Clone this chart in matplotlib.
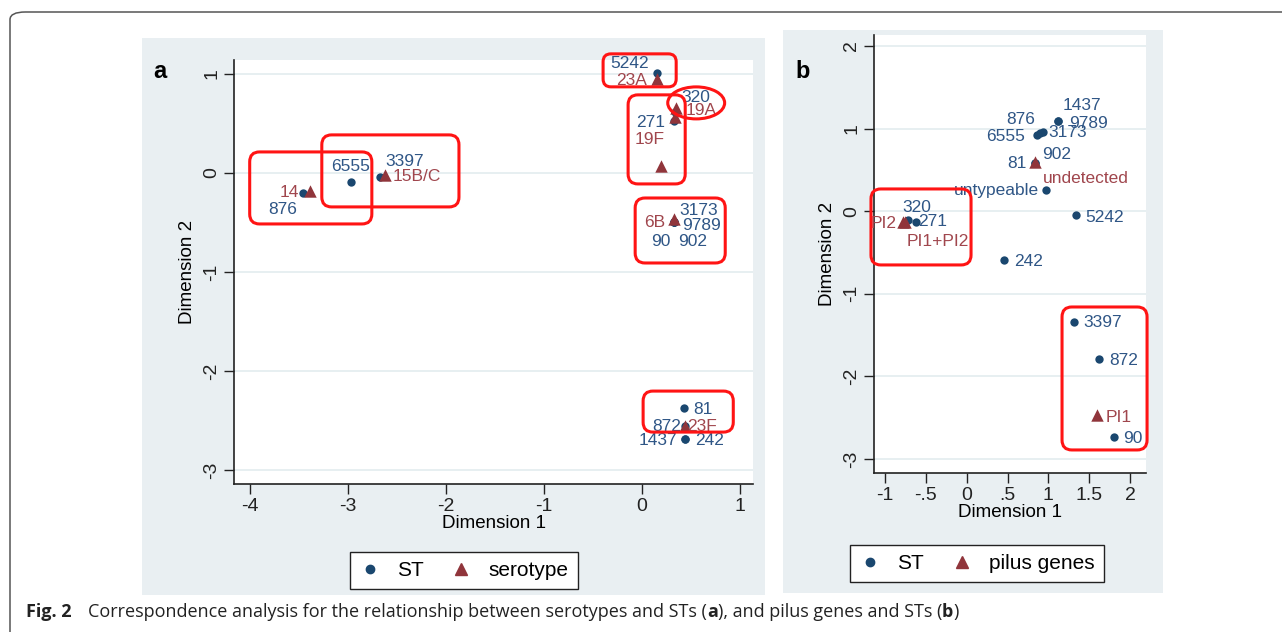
import matplotlib.pyplot as plt
from matplotlib.patches import FancyBboxPatch, Rectangle, Ellipse
from matplotlib.lines import Line2D

W, H = 1282, 632

# ---- panel a: STs and serotypes ----
st_a_names = ["876", "6555", "3397", "5242", "320", "271", "3173", "9789",
              "902", "90", "81", "872", "1437", "242"]
st_a_x = [-3.46, -2.97, -2.67, 0.15, 0.33, 0.32, 0.32, 0.32,
          0.32, 0.32, 0.43, 0.44, 0.44, 0.44]
st_a_y = [-0.20, -0.09, -0.04, 1.01, 0.62, 0.52, -0.50, -0.50,
          -0.50, -0.50, -2.37, -2.55, -2.69, -2.69]

sero_names = ["14", "15B/C", "23A", "19A", "", "19F", "6B", "23F"]
sero_x = [-3.39, -2.62, 0.15, 0.35, 0.33, 0.19, 0.32, 0.44]
sero_y = [-0.18, -0.02, 0.95, 0.66, 0.56, 0.07, -0.47, -2.55]

# ---- panel b: STs and pilus genes ----
st_b_names = ["320", "271", "242", "untypeable", "81", "902", "876", "6555",
              "3173", "1437", "9789", "5242", "3397", "872", "90"]
st_b_x = [-0.72, -0.62, 0.46, 0.97, 0.84, 0.84, 0.90, 0.86,
          0.93, 1.12, 1.12, 1.34, 1.31, 1.62, 1.80]
st_b_y = [-0.11, -0.13, -0.59, 0.26, 0.58, 0.58, 0.95, 0.92,
          0.96, 1.09, 1.09, -0.05, -1.34, -1.79, -2.74]

pilus_names = ["PI2", "PI1+PI2", "undetected", "PI1"]
pilus_x = [-0.78, -0.76, 0.84, 1.60]
pilus_y = [-0.13, -0.13, 0.60, -2.47]

# label offsets (pixels, centre of text relative to marker)
off_st_a = {"876": (-20, -17), "6555": (0, 15), "3397": (24, 15), "5242": (-27, 9),
            "320": (21, 14), "271": (-23, -1), "3173": (25, 12), "9789": (28, -3),
            "902": (19, -19), "90": (-13, -19), "81": (19, -2), "872": (-19, -1),
            "1437": (-27, -1), "242": (24, -1)}
off_sero = {"14": (-20, -2), "15B/C": (32, -2), "23A": (-25, -2), "19A": (25, -3),
            "19F": (-11, 26), "6B": (-19, -3), "23F": (17, -1)}
off_st_b = {"320": (9, 13), "271": (17, 0), "242": (24, -2), "untypeable": (-50, -1),
            "81": (-18, 0), "902": (21, 9), "876": (-20, 13), "6555": (-31, -1),
            "3173": (25, -1), "1437": (24, 16), "9789": (30, -2), "5242": (28, -2),
            "3397": (29, -1), "872": (25, -1), "90": (19, -1)}
off_pilus = {"PI2": (-19, -2), "PI1+PI2": (33, -20), "undetected": (50, -17), "PI1": (21, -2)}

NAVY = "#1a476f"
NAVY_TXT = "#2f5686"
MAROON = "#90353b"
MAROON_TXT = "#a0464d"
BG = "#e9eff2"
RED = "#ff1414"

plt.rcParams["font.family"] = ["Liberation Sans", "DejaVu Sans"]


def fbox(px0, py0, px1, py1):
    # pixel box (top-left origin) -> figure fraction rect
    return (px0 / W, 1 - py1 / H, (px1 - px0) / W, (py1 - py0) / H)


def style_axes(ax, xt, xtl, yt, ytl):
    ax.set_facecolor("white")
    for s in ["top", "right"]:
        ax.spines[s].set_visible(False)
    for s in ["left", "bottom"]:
        ax.spines[s].set_color("#222222")
        ax.spines[s].set_linewidth(1.2)
    ax.set_xticks(xt)
    ax.set_xticklabels(xtl)
    ax.set_yticks(yt)
    ax.set_yticklabels(ytl, rotation=90, va="center")
    ax.tick_params(direction="out", length=7, width=1, colors="#222222",
                   labelsize=14, pad=3)
    for y in yt:
        ax.axhline(y, color="#e3ecef", lw=1.2, zorder=0)
    ax.set_xlabel("Dimension 1", fontsize=13.5, labelpad=0)
    ax.set_ylabel("Dimension 2", fontsize=13.5, labelpad=5)


def points(ax, names, xs, ys, offs, marker, mcolor, tcolor, size):
    ax.scatter(xs, ys, marker=marker, s=size, color=mcolor, zorder=3 if marker == "o" else 4,
               linewidths=0, clip_on=False)
    for n, x, y in zip(names, xs, ys):
        if not n:
            continue
        ax.annotate(n, (x, y), xytext=offs[n], textcoords="offset pixels",
                    ha="center", va="center", fontsize=12.5, color=tcolor,
                    annotation_clip=False, zorder=5)


def red_box(ax, x0, y0, w, h, r):
    p = FancyBboxPatch((x0, y0), w, h, boxstyle=f"round,pad=0,rounding_size={r}",
                       facecolor="none", edgecolor=RED, linewidth=2.2,
                       clip_on=False, zorder=6)
    ax.add_patch(p)


fig = plt.figure(figsize=(W / 100, H / 100), dpi=100)
fig.patch.set_facecolor("white")

# outer frame
fig.patches.append(FancyBboxPatch((10 / W, -0.05), 1.1, 1 - 12 / H + 0.05,
                                  boxstyle="round,pad=0,rounding_size=0.012",
                                  transform=fig.transFigure, facecolor="none",
                                  edgecolor="#555555", linewidth=1.1, zorder=-2))
# panel backgrounds
for box in [(142, 38, 765, 595), (783, 30, 1163, 593)]:
    r = fbox(*box)
    fig.patches.append(Rectangle(r[:2], r[2], r[3], transform=fig.transFigure,
                                 facecolor=BG, edgecolor="none", zorder=-1))

# ---------- panel a ----------
axa = fig.add_axes(fbox(234, 60, 753, 484))
axa.set_xlim(-4.16, 1.13)
axa.set_ylim(-3.14, 1.14)
style_axes(axa, [-4, -3, -2, -1, 0, 1], ["-4", "-3", "-2", "-1", "0", "1"],
           [-3, -2, -1, 0, 1], ["-3", "-2", "-1", "0", "1"])
points(axa, st_a_names, st_a_x, st_a_y, off_st_a, "o", NAVY, NAVY_TXT, 36)
points(axa, sero_names, sero_x, sero_y, off_sero, "^", MAROON, MAROON_TXT, 80)

red_box(axa, -4.0, -0.515, 1.245, 0.727, 0.1)
red_box(axa, -3.265, -0.343, 1.398, 0.727, 0.1)
red_box(axa, -0.398, 0.869, 0.745, 0.333, 0.08)
red_box(axa, -0.143, -0.111, 0.582, 0.899, 0.1)
red_box(axa, -0.071, -0.909, 0.918, 0.656, 0.1)
red_box(axa, 0.010, -2.616, 0.919, 0.414, 0.1)
axa.add_patch(Ellipse((0.551, 0.707), 0.58, 0.323, facecolor="none", edgecolor=RED,
                      linewidth=2.2, clip_on=False, zorder=6))

# ---------- panel b ----------
axb = fig.add_axes(fbox(874, 35, 1146, 473))
axb.set_xlim(-1.135, 2.195)
axb.set_ylim(-3.17, 2.133)
style_axes(axb, [-1, -0.5, 0, 0.5, 1, 1.5, 2], ["-1", "-.5", "0", ".5", "1", "1.5", "2"],
           [-3, -2, -1, 0, 1, 2], ["-3", "-2", "-1", "0", "1", "2"])
points(axb, st_b_names, st_b_x, st_b_y, off_st_b, "o", NAVY, NAVY_TXT, 36)
points(axb, pilus_names, pilus_x, pilus_y, off_pilus, "^", MAROON, MAROON_TXT, 80)

red_box(axb, -1.172, -0.651, 1.225, 0.920, 0.12)
red_box(axb, 1.167, -2.891, 1.041, 1.731, 0.12)

# panel letters
fig.text(160 / W, 1 - 72 / H, "a", fontsize=17, fontweight="bold", ha="center", va="center")
fig.text(803 / W, 1 - 72 / H, "b", fontsize=17, fontweight="bold", ha="center", va="center")

# legends
h_st = Line2D([], [], marker="o", ls="none", color=NAVY, markersize=6)
h_tri = Line2D([], [], marker="^", ls="none", color=MAROON, markersize=8)
for cx, cy, lab in [(464, 570.5, "serotype"), (977, 563.5, "pilus genes")]:
    lg = fig.legend([h_st, h_tri], ["ST", lab], loc="center",
                    bbox_to_anchor=(cx / W, 1 - cy / H), ncol=2, fontsize=15,
                    frameon=True, fancybox=False, handlelength=1.0,
                    handletextpad=0.8, columnspacing=1.3, borderpad=0.45)
    lg.get_frame().set_edgecolor("#222222")
    lg.get_frame().set_linewidth(1.0)
    lg.get_frame().set_facecolor("white")
    lg.get_frame().set_alpha(1)

# caption
renderer = fig.canvas.get_renderer()
pieces = [("Fig. 2", "bold", 26),
          ("Correspondence analysis for the relationship between serotypes and STs (", "normal", 88),
          ("a", "bold", None), ("), and pilus genes and STs (", "normal", None),
          ("b", "bold", None), (")", "normal", None)]
x = 26
for txt, wt, x0 in pieces:
    if x0 is not None:
        x = x0
    t = fig.text(x / W, 1 - 612 / H, txt, fontsize=13.0, fontweight=wt,
                 family=["Open Sans", "DejaVu Sans"], ha="left", va="center", color="#222222")
    x += t.get_window_extent(renderer).width

fig.savefig("out.png", dpi=100, facecolor="white")
